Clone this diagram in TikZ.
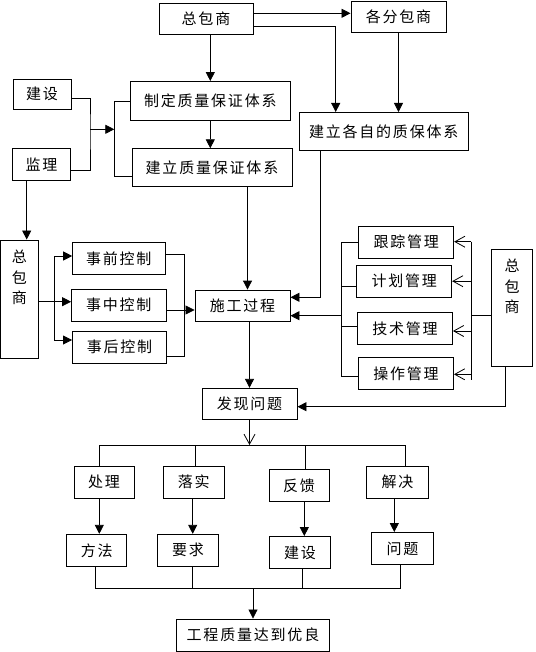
\documentclass[tikz,border=0pt]{standalone}
\usepackage{fontspec}
\setmainfont{Noto Sans CJK SC}[LetterSpace=12]
\usetikzlibrary{arrows.meta}

\begin{document}
\begin{tikzpicture}[x=1pt, y=-1pt, line width=0.8pt,
                    box/.style = {draw,
                                line width=0.9pt,
                                minimum width = 95pt,
                                minimum height = 32pt,
                                inner sep=0pt,
                                font=\fontsize{15}{18}\selectfont},
                    arr/.style = {-{Triangle[length=9pt,width=9pt]}},
                    oarr/.style = {-{Straight Barb[length=10pt,width=11pt]}}]
                    \useasboundingbox (0,0) rectangle (535,652);
                    % Top contractors
                    \node[box, minimum width=94pt, minimum height=31pt] (zbT) at (206,18.5) {总包商};
                    \node[box, minimum height=31pt] (fbs) at (398.5,17) {各分包商};
                    % Owner and supervisor
                    \node[box, minimum width=58pt, minimum height=30.5pt] (js1) at (42,94.3) {建设};
                    \node[box, minimum width=58pt, minimum height=31.5pt] (jl) at (41.5,164.3) {监理};
                    % Quality systems
                    \node[box, minimum width=160.5pt, minimum height=39pt] (zd) at (210.3,101) {制定质量保证体系};
                    \node[box, minimum width=160pt, minimum height=37.5pt] (jlbz) at (212,167.5) {建立质量保证体系};
                    \node[box, minimum width=168.5pt, minimum height=38.5pt] (gzzb) at (383.7,131.7) {建立各自的质保体系};
                    % Left contractor
                    \node[box, minimum width=37.8pt, minimum height=118pt,
                          label={[anchor=north,yshift=-10pt,align=center,inner sep=0pt,font=\fontsize{15}{20.5}\selectfont]north:总\\包\\商}] (zbL) at (19.4,299) {};
                    % Controls
                    \node[box, minimum width=92.3pt] (sq) at (118.8,258.3) {事前控制};
                    \node[box, minimum width=94.5pt, minimum height=31.5pt] (sz) at (118.8,305.3) {事中控制};
                    \node[box, minimum width=94pt] (sh) at (119.5,347.2) {事后控制};
                    % Construction
                    \node[box, minimum height=31.5pt] (sg) at (242.5,305.8) {施工过程};
                    % Management
                    \node[box] (gzgl) at (406.2,242.2) {跟踪管理};
                    \node[box] (jhgl) at (404.2,281.2) {计划管理};
                    \node[box] (jsgl) at (405,328.3) {技术管理};
                    \node[box] (czgl) at (406,373.3) {操作管理};
                    % Right contractor
                    \node[box, minimum width=41pt, minimum height=117pt,
                          label={[anchor=north,yshift=-10pt,align=center,inner sep=0pt,font=\fontsize{15}{20.5}\selectfont]north:总\\包\\商}] (zbR) at (512.2,307.5) {};
                    % Problems
                    \node[box, minimum height=31pt] (fx) at (249.5,403.8) {发现问题};
                    \node[box, minimum width=60pt] (cl) at (104,482) {处理};
                    \node[box, minimum width=61pt] (ls) at (193.8,482.2) {落实};
                    \node[box, minimum width=60pt] (fk) at (299,485.5) {反馈};
                    \node[box, minimum width=61.6pt] (jj) at (397.5,482.2) {解决};
                    \node[box, minimum width=60pt] (ff) at (96.7,550.3) {方法};
                    \node[box, minimum width=60.6pt] (yq) at (188,550.3) {要求};
                    \node[box, minimum width=61.4pt] (js2) at (300,552.5) {建设};
                    \node[box, minimum width=61.6pt] (wt) at (402.5,548.5) {问题};
                    % Result
                    \node[box, minimum width=152.6pt] (yl) at (253,635) {工程质量达到优良};
                    % Top arrows
                    \draw[arr] ([yshift=5.2pt]zbT.east) -- ([yshift=5.2pt]zbT.east -| fbs.west);
                    \draw[arr] ([yshift=-7.5pt]zbT.east) -| ([xshift=-48pt]gzzb.north);
                    \draw[arr] (fbs.south) -- (fbs.south |- gzzb.north);
                    \draw[arr] (zd.north |- zbT.south) -- (zd.north);
                    \draw[arr] (zd.south) -- (zd.south |- jlbz.north);
                    % Owner and supervisor join
                    \coordinate (m1) at (90,129.3);
                    \coordinate (m2) at (114.3,129.3);
                    \draw ([yshift=-4pt]js1.east) -| (m1) |- ([yshift=-6pt]jl.east);
                    \draw[arr] (m1) -- (m2);
                    \draw (zd.west) -| (m2) |- ([yshift=-8.5pt]jlbz.west);
                    \draw[arr] ([xshift=-14.8pt]jl.south) -- ([xshift=-14.8pt]jl.south |- zbL.north);
                    % Into construction
                    \draw[arr] ([xshift=35.5pt]jlbz.south) -- ([xshift=35.5pt]jlbz.south |- sg.north);
                    \draw[arr] ([xshift=-63pt]gzzb.south) |- ([yshift=8.5pt]sg.east);
                    % Controls
                    \coordinate (lv) at (54,301.7);
                    \draw ([yshift=-2.7pt]zbL.east) -- (lv);
                    \draw[arr] (lv) |- ([yshift=2.3pt]sq.west);
                    \draw[arr] (lv) -- ([yshift=3.6pt]sz.west);
                    \draw[arr] (lv) |- ([yshift=7.2pt]sh.west);
                    \coordinate (ct) at (184,254);
                    \coordinate (cb) at (184,356);
                    \draw ([yshift=4.3pt]sq.east) -- (ct) -- (cb) -- ([yshift=-8.8pt]sh.east);
                    \draw[arr] ([yshift=-4.7pt]sz.east) -- ([yshift=-4.7pt]sz.east -| sg.west);
                    % Management
                    \coordinate (mt) at (341,242.2);
                    \coordinate (mb) at (341,376.5);
                    \coordinate (mm) at (341,315.7);
                    \draw (gzgl.west) -- (mt) -- (mb) -- ([yshift=-3.2pt]czgl.west);
                    \draw ([yshift=-4.8pt]jhgl.west) -- ([yshift=-4.8pt]jhgl.west -| mt);
                    \draw ([yshift=1.6pt]jsgl.west) -- ([yshift=1.6pt]jsgl.west -| mt);
                    \draw[arr] (mm) -- (mm -| sg.east);
                    \coordinate (nt) at (471,241.7);
                    \coordinate (nb) at (471,380);
                    \coordinate (nm) at (471,315);
                    \draw (nt) -- (nb);
                    \draw ([yshift=-7.5pt]zbR.west) -- (nm);
                    \draw[oarr] (nt) -- (nt -| gzgl.east);
                    \draw[oarr] (jhgl.east -| nt) -- (jhgl.east);
                    \draw[oarr] ([yshift=-2.7pt]jsgl.east -| nt) -- ([yshift=-2.7pt]jsgl.east);
                    \draw[oarr] ([yshift=-1pt]czgl.east -| nt) -- ([yshift=-1pt]czgl.east);
                    % Problems
                    \draw[arr] ([xshift=-6.5pt]zbR.south) |- ([yshift=-2.9pt]fx.east);
                    \draw[arr] (fx.north |- sg.south) -- (fx.north);
                    \coordinate (bus) at (249.5,445);
                    \draw[oarr] (fx.south) -- (bus);
                    \draw ([xshift=-4.7pt]cl.north) |- ([xshift=8.2pt]jj.north |- bus) -- ([xshift=8.2pt]jj.north);
                    \draw ([xshift=1.2pt]ls.north) -- ([xshift=1.2pt]ls.north |- bus);
                    \draw ([xshift=6pt]fk.north) -- ([xshift=6pt]fk.north |- bus);
                    \draw[arr] ([xshift=-4.7pt]cl.south) -- ([xshift=-4.7pt]cl.south |- ff.north);
                    \draw[arr] ([xshift=-1.1pt]ls.south) -- ([xshift=-1.1pt]ls.south |- yq.north);
                    \draw[arr] ([xshift=5.3pt]fk.south) -- ([xshift=5.3pt]fk.south |- js2.north);
                    \draw[arr] ([xshift=-3.2pt]jj.south) -- ([xshift=-3.2pt]jj.south |- wt.north);
                    % Result join
                    \coordinate (bus2) at (253,588);
                    \draw ([xshift=-1pt]ff.south) |- ([xshift=-1.8pt]wt.south |- bus2) -- ([xshift=-1.8pt]wt.south);
                    \draw ([xshift=4.7pt]yq.south) -- ([xshift=4.7pt]yq.south |- bus2);
                    \draw ([xshift=2.3pt]js2.south) -- ([xshift=2.3pt]js2.south |- bus2);
                    \draw[arr] (bus2) -- (yl.north);
                \end{tikzpicture}
\end{document}
